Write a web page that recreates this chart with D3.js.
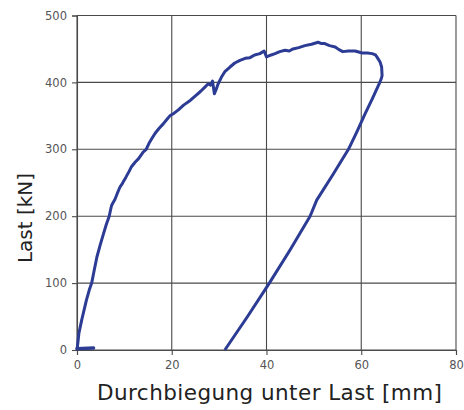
<!DOCTYPE html>
<html><head><meta charset="utf-8">
<script src="https://d3js.org/d3.v7.min.js"></script>
<style>body{margin:0;background:#fff}svg{display:block}</style>
</head><body>
<script>
// Data (deflection in mm, load in kN)
const loadX = [0,0.2,0.4,1.0,1.5,2.0,2.6,3.1,3.6,4.2,4.9,5.6,6.2,6.8,7.1,7.3,7.6,8.0,8.5,9.1,9.6,9.8,10.3,11.0,11.5,12.3,13.0,13.3,14.0,14.6,15.2,15.8,16.5,17.3,18.2,19.0,19.6,20.5,21.4,22.5,23.9,25.0,26.0,27.0,27.7,28.2,28.6,29.0,29.4,29.8,30.5,31.2,32.3,33.3,34.4,35.5,36.5,37.5,38.6,39.5,40.0,41.0,41.8,42.8,43.9,44.8,45.6,46.8,48.1,49.5,50.9,51.6,52.3,53.3,54.5,55.3,56.1,57.3,58.7,60.2,61.3,62.3,63.0,63.4,64.0,64.3,64.4];
const loadY = [0,12,25,45,60,75,90,100,118,139,157,174,188,200,210,216,220,225,234,244,249,252,258,267,274,281,286,289,296,300,309,316,324,331,338,345,350,354,359,366,373,380,386,393,398,396,402,383,390,398,408,416,423,429,433,436,437,441,443,447,438,441,443,446,448,447,450,452,455,457,460,458,458,455,453,449,446,447,447,444,444,443,441,437,430,423,410];
const unloadX = [64.4,64.2,63.8,62.3,60.8,59.0,57.3,54.0,50.6,49.2,45.0,40.6,36.0,31.2];
const unloadY = [410,405,398,375,353,325,300,262,224,200,150,100,50,0];
const stubX = [0,3.5];
const stubY = [2,3];
const xTicks = [0,20,40,60,80];
const yTicks = [0,100,200,300,400,500];
const xTitle = "Durchbiegung unter Last [mm]";
const yTitle = "Last [kN]";

const W = 464, H = 410;
const svg = d3.select("body").append("svg").attr("width", W).attr("height", H);
const x = d3.scaleLinear().domain([0,80]).range([77,456]);
const y = d3.scaleLinear().domain([0,500]).range([350,15.5]);
const gridColor = "#4a4a4a";
const font = "'Century Gothic', 'DejaVu Sans', sans-serif";

// grid
const grid = svg.append("g").attr("stroke", gridColor).attr("stroke-width", 1.1);
xTicks.forEach(t => grid.append("line").attr("x1", x(t)).attr("x2", x(t)).attr("y1", y(500)).attr("y2", y(0)));
yTicks.forEach(t => grid.append("line").attr("x1", x(0)).attr("x2", x(80)).attr("y1", y(t)).attr("y2", y(t)));

// axes
const xAxis = d3.axisBottom(x).tickValues(xTicks).tickSize(5).tickPadding(6);
const yAxis = d3.axisLeft(y).tickValues(yTicks).tickSize(5).tickPadding(5);
const gx = svg.append("g").attr("transform", `translate(0,${y(0)})`).call(xAxis);
const gy = svg.append("g").attr("transform", `translate(${x(0)},0)`).call(yAxis);
[gx, gy].forEach(g => {
  g.select(".domain").attr("stroke", gridColor).attr("stroke-width", 1.1);
  g.selectAll(".tick line").attr("stroke", gridColor).attr("stroke-width", 1.1);
  g.selectAll(".tick text").attr("fill", "#555").style("font-family", font).style("font-size", "11.5px");
});

// curves
const line = d3.line().x(d => x(d[0])).y(d => y(d[1]));
const col = "#2c3b94";
const mk = (xs, ys) => xs.map((v, i) => [v, ys[i]]);
svg.append("path").datum(mk(loadX, loadY).concat(mk(unloadX, unloadY).slice(1)))
  .attr("d", line).attr("fill", "none").attr("stroke", col).attr("stroke-width", 3).attr("stroke-linejoin", "round");
svg.append("path").datum(mk(stubX, stubY))
  .attr("d", line).attr("fill", "none").attr("stroke", col).attr("stroke-width", 3.4).attr("stroke-linecap", "round");

// titles
svg.append("text").attr("x", 97).attr("y", 400).attr("textLength", 345).attr("lengthAdjust", "spacing")
  .style("font-family", font).style("font-size", "21.5px").attr("fill", "#222").text(xTitle);
svg.append("text").attr("transform", "translate(32,218) rotate(-90)").attr("text-anchor", "middle")
  .style("font-family", font).style("font-size", "20px").attr("fill", "#222").text(yTitle);
</script>
</body></html>
